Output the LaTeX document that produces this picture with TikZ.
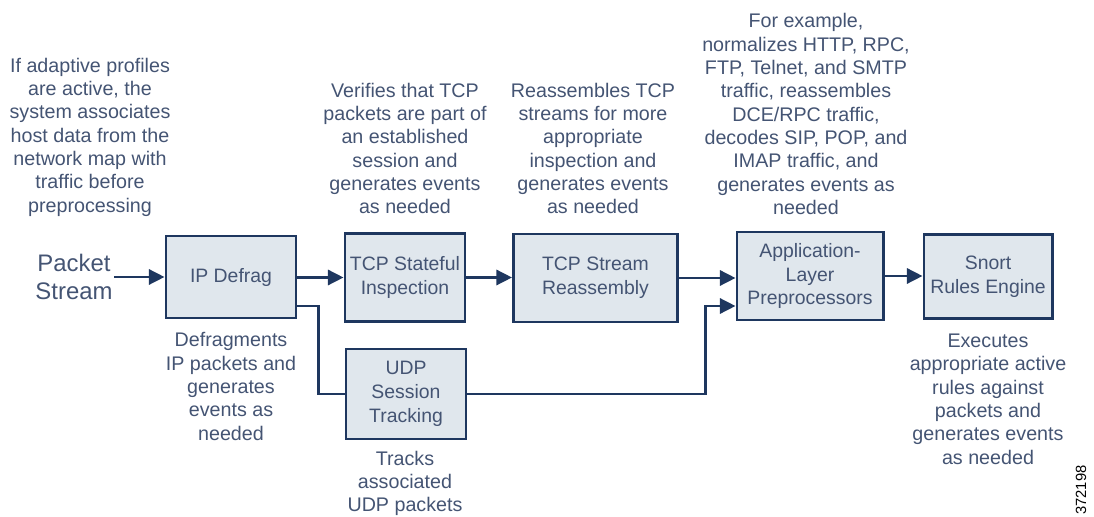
\documentclass[tikz,border=0pt]{standalone}
\usepackage{fontspec}
\setmainfont{Liberation Sans}
\usepackage{tikz}
\usetikzlibrary{positioning,arrows.meta}
\definecolor{boxline}{RGB}{30,55,95}
\definecolor{boxfill}{RGB}{224,231,237}
\definecolor{txt}{RGB}{68,84,115}
\tikzset{
  blk/.style={draw=boxline,fill=boxfill,line width=2.1pt,align=center,text=txt,
    font=\fontsize{13.8}{17}\selectfont,inner sep=1pt},
  note/.style={align=center,text=txt,font=\fontsize{14}{16.6}\selectfont},
  ln/.style={draw=boxline,line width=1.8pt},
  arr/.style={ln,-{Triangle[length=3.9mm,width=3.8mm]}},
}
\begin{document}
\begin{tikzpicture}[x=0.025cm,y=-0.025cm]
  \useasboundingbox (0,0) rectangle (1094,517);
  % pipeline stages
  \node[blk,minimum width=3.25cm,minimum height=2.05cm] (ipd) at (231,277) {IP Defrag};
  \node[blk,minimum width=3cm,minimum height=2.2cm] (tcps) at (405,277.5) {TCP Stateful\\Inspection};
  \node[blk,minimum width=4.1cm,minimum height=2.2cm] (tcpr) at (595.5,278) {TCP Stream\\Reassembly};
  \node[blk,minimum width=3.65cm,minimum height=2.2cm] (app) at (810,276) {Application-\\Layer\\Preprocessors};
  \node[blk,minimum width=3.2cm,minimum height=2.08cm] (snort) at (988,276.5) {Snort\\Rules Engine};
  \node[blk,minimum width=3cm,minimum height=2.25cm] (udp) at (406,394) {UDP\\Session\\Tracking};
  \node[note,font=\fontsize{17}{19.5}\selectfont,inner sep=1pt] (pkt) at (74,277) {Packet\\Stream};
  % connectors
  \draw[arr] (pkt) -- (ipd);
  \draw[arr] (ipd.east |- tcps) -- (tcps);
  \draw[arr] (tcps) -- (tcps -| tcpr.west);
  \draw[arr] (tcpr.east) -- (tcpr.east -| app.west);
  \draw[arr] (app) -- (app -| snort.west);
  \draw[ln] (ipd.east) ++(0,29) -- ++(21,0) |- (udp.west);
  \draw[arr] (udp.east) -- ++(238,0) |- ([yshift=-0.75cm]app.west);
  % descriptions
  \node[note] (n-ipd) at (231,386.5) {Defragments\\IP packets and\\generates\\events as\\needed};
  \node[note] (n-pre) at (90,137) {If adaptive profiles\\are active, the\\system associates\\host data from the\\network map with\\traffic before\\preprocessing};
  \node[note] (n-tcps) at (405,148.5) {Verifies that TCP\\packets are part of\\an established\\session and\\generates events\\as needed};
  \node[note] (n-tcpr) at (593,148.5) {Reassembles TCP\\streams for more\\appropriate\\inspection and\\generates events\\as needed};
  \node[note] (n-app) at (806,114) {For example,\\normalizes HTTP, RPC,\\FTP, Telnet, and SMTP\\traffic, reassembles\\DCE/RPC traffic,\\decodes SIP, POP, and\\IMAP traffic, and\\generates events as\\needed};
  \node[note] (n-udp) at (405,483.5) {Tracks\\associated\\UDP packets};
  \node[note] (n-snort) at (988,399) {Executes\\appropriate active\\rules against\\packets and\\generates events\\as needed};
  \node[rotate=90,font=\fontsize{10.5}{12}\selectfont] (fig) at (1081,490) {372198};
\end{tikzpicture}
\end{document}
